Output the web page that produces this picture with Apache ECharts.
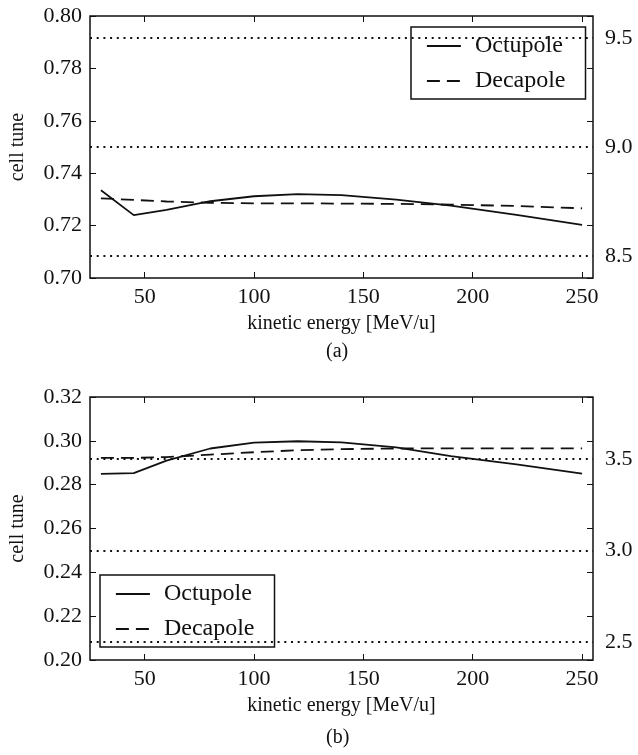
<!DOCTYPE html>
<html>
<head>
<meta charset="utf-8">
<script src="https://cdn.jsdelivr.net/npm/echarts@6/dist/echarts.min.js"></script>
<style>
html,body{margin:0;padding:0;background:#fff;}
#chart{width:638px;height:755px;}
</style>
</head>
<body>
<div id="chart"></div>
<script>
// ---- data ----
const energies = [30, 45, 60, 80, 100, 120, 140, 165, 190, 220, 250];
const octupoleA = [0.7335, 0.7240, 0.7260, 0.7293, 0.7312, 0.7320, 0.7316, 0.7299, 0.7276, 0.7241, 0.7203];
const decapoleA = [0.7304, 0.7298, 0.7292, 0.7287, 0.7285, 0.7285, 0.7284, 0.7283, 0.7280, 0.7275, 0.7266];
const octupoleB = [0.2849, 0.2853, 0.2910, 0.2965, 0.2992, 0.2998, 0.2993, 0.2970, 0.2930, 0.2893, 0.2850];
const decapoleB = [0.2922, 0.2922, 0.2926, 0.2937, 0.2948, 0.2957, 0.2962, 0.2965, 0.2966, 0.2966, 0.2966];
const xTicks = [50, 100, 150, 200, 250];
const ringTuneA = [8.5, 9.0, 9.5];
const ringTuneB = [2.5, 3.0, 3.5];
const panelLabels = ['(a)', '(b)'];
const seriesNames = ['Octupole', 'Decapole'];

const FONT = 'Liberation Serif';
const pairs = (ys) => energies.map((e, i) => [e, ys[i]]);

function xAxes(grid) {
  const base = {
    gridIndex: grid, type: 'value', min: 25, max: 255,
    splitLine: {show: false},
    axisLine: {show: false}
  };
  return [
    Object.assign({}, base, {
      position: 'bottom',
      name: 'kinetic energy [MeV/u]', nameLocation: 'middle', nameGap: 36,
      nameTextStyle: {fontFamily: FONT, fontSize: 20, color: '#111'},
      axisTick: {inside: true, length: 6, lineStyle: {color: '#111', width: 1}, customValues: xTicks},
      axisLabel: {fontFamily: FONT, fontSize: 22, color: '#111', margin: 8, customValues: xTicks}
    }),
    Object.assign({}, base, {
      position: 'top',
      axisTick: {inside: true, length: 6, lineStyle: {color: '#111', width: 1}, customValues: xTicks},
      axisLabel: {show: false, customValues: xTicks}
    })
  ];
}

function yAxes(grid, min, max, rmin, rmax, rvals) {
  return [
    {
      gridIndex: grid, type: 'value', position: 'left', min: min, max: max, interval: 0.02,
      name: 'cell tune', nameLocation: 'middle', nameGap: 62, nameRotate: 90,
      nameTextStyle: {fontFamily: FONT, fontSize: 20, color: '#111'},
      splitLine: {show: false}, axisLine: {show: false},
      axisTick: {inside: true, length: 6, lineStyle: {color: '#111', width: 1}},
      axisLabel: {fontFamily: FONT, fontSize: 22, color: '#111', margin: 8,
                  formatter: v => v.toFixed(2)}
    },
    {
      gridIndex: grid, type: 'value', position: 'right', min: min, max: max, interval: 0.02,
      splitLine: {show: false}, axisLine: {show: false},
      axisTick: {inside: true, length: 6, lineStyle: {color: '#111', width: 1}},
      axisLabel: {show: false}
    },
    {
      gridIndex: grid, type: 'value', position: 'right', min: rmin, max: rmax,
      splitLine: {show: false}, axisLine: {show: false}, axisTick: {show: false},
      axisLabel: {fontFamily: FONT, fontSize: 22, color: '#111', margin: 12,
                  customValues: rvals, formatter: v => v.toFixed(1)}
    }
  ];
}

function lineSeries(name, xi, yi, ys, dashed) {
  return {
    name: name, type: 'line', xAxisIndex: xi, yAxisIndex: yi,
    data: pairs(ys), showSymbol: false, symbol: 'none', animation: false,
    lineStyle: {color: '#111', width: 1.8, type: dashed ? [13, 7] : 'solid'},
    itemStyle: {color: '#111'}, z: 3
  };
}

function guideSeries(xi, yi, vals) {
  return {
    name: 'guides', type: 'line', xAxisIndex: xi, yAxisIndex: yi, data: [],
    symbol: 'none', animation: false, silent: true,
    markLine: {
      silent: true, symbol: 'none', animation: false,
      label: {show: false},
      lineStyle: {color: '#111', width: 2, type: [2, 4.7], cap: 'butt'},
      data: vals.map(v => ({yAxis: v}))
    }
  };
}

function legend(left, top) {
  return {
    data: seriesNames, orient: 'vertical', left: left, top: top,
    backgroundColor: '#fff', borderColor: '#111', borderWidth: 1.5, borderRadius: 0,
    padding: [7, 20, 6, 15], itemWidth: 34, itemHeight: 14, itemGap: 11,
    selectedMode: false,
    itemStyle: {opacity: 0},
    lineStyle: {width: 1.8},
    textStyle: {fontFamily: FONT, fontSize: 24, lineHeight: 24, color: '#111', padding: [0, 0, 0, 9]}
  };
}

const option = {
  backgroundColor: '#fff',
  animation: false,
  grid: [
    {left: 88, right: 45, top: 16, height: 262, show: true, borderColor: '#111', borderWidth: 1.5, backgroundColor: 'transparent'},
    {left: 88, right: 45, top: 397, height: 263, show: true, borderColor: '#111', borderWidth: 1.5, backgroundColor: 'transparent'}
  ],
  title: [
    {text: panelLabels[0], left: 326, top: 342, textStyle: {fontFamily: FONT, fontSize: 20, fontWeight: 'normal', color: '#111'}, padding: 0},
    {text: panelLabels[1], left: 326, top: 728, textStyle: {fontFamily: FONT, fontSize: 20, fontWeight: 'normal', color: '#111'}, padding: 0}
  ],
  legend: [legend(411, 27), legend(100, 575)],
  xAxis: [...xAxes(0), ...xAxes(1)],
  yAxis: [
    ...yAxes(0, 0.70, 0.80, 8.4, 9.6, ringTuneA),
    ...yAxes(1, 0.20, 0.32, 2.4, 3.84, ringTuneB)
  ],
  series: [
    guideSeries(0, 2, ringTuneA),
    lineSeries(seriesNames[0], 0, 0, octupoleA, false),
    lineSeries(seriesNames[1], 0, 0, decapoleA, true),
    guideSeries(2, 5, ringTuneB),
    lineSeries(seriesNames[0], 2, 3, octupoleB, false),
    lineSeries(seriesNames[1], 2, 3, decapoleB, true)
  ]
};

const chart = echarts.init(document.getElementById('chart'), null, {renderer: 'canvas'});
chart.setOption(option);
</script>
</body>
</html>
